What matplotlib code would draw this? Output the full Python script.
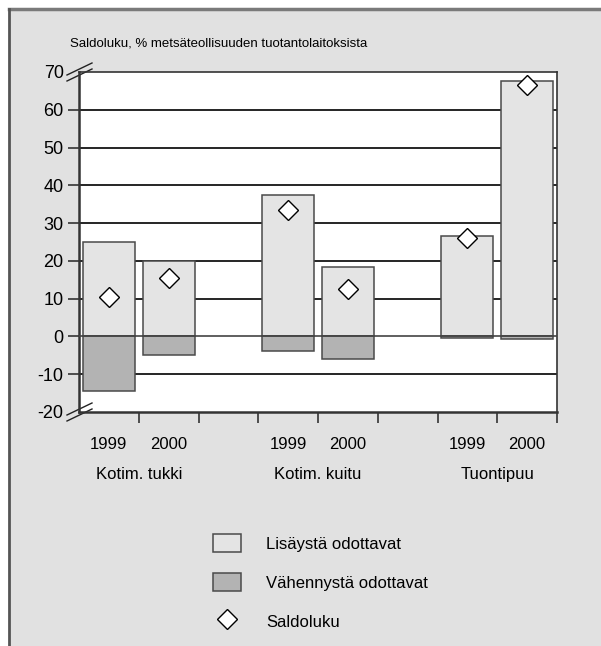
import matplotlib

matplotlib.use("Agg")
import matplotlib.pyplot as plt
from matplotlib.lines import Line2D
from matplotlib.patches import Patch, Rectangle

plt.rcParams["font.family"] = ["Liberation Sans Narrow", "Liberation Sans", "DejaVu Sans"]
plt.rcParams["axes.unicode_minus"] = False

# data
groups = ["Kotim. tukki", "Kotim. kuitu", "Tuontipuu"]
years = ["1999", "2000"]
increase = [25.0, 20.0, 37.5, 18.5, 26.5, 67.5]      # Lisäystä odottavat
decrease = [-14.5, -5.0, -3.8, -6.0, -0.3, -0.8]     # Vähennystä odottavat
balance = [10.5, 15.5, 33.5, 12.5, 26.0, 66.5]       # Saldoluku
yticks = [70, 60, 50, 40, 30, 20, 10, 0, -10, -20]

BG = "#e1e1e1"
INC_COLOR = "#e4e4e4"
DEC_COLOR = "#b3b3b3"
FS = 12

fig = plt.figure(figsize=(6.01, 6.46), dpi=100)
fig.patch.set_facecolor("white")
W, H = 601, 646
fig.add_artist(Rectangle((8.5 / W, 0), 1, 1 - 8.5 / H, transform=fig.transFigure,
                         facecolor=BG, edgecolor="none", zorder=-10))
fig.add_artist(Line2D([8.5 / W, 1], [1 - 8.5 / H] * 2, transform=fig.transFigure,
                      color="#7a7a7a", lw=2.5))
fig.add_artist(Line2D([8.5 / W] * 2, [0, 1 - 8.5 / H], transform=fig.transFigure,
                      color="#555555", lw=2.0))

ax = fig.add_axes([79 / W, 1 - 412 / H, (557 - 79) / W, (412 - 72) / H])
ax.set_facecolor("white")

# 3 groups of 2 bars, empty slot between groups
pos = []
for g in range(len(groups)):
    for y in range(len(years)):
        pos.append(g * 3 + y)

ax.bar(pos, increase, width=0.87, color=INC_COLOR, edgecolor="#4a4a4a", linewidth=1.1, zorder=2)
ax.bar(pos, decrease, width=0.87, color=DEC_COLOR, edgecolor="#4a4a4a", linewidth=1.1, zorder=2)
ax.plot(pos, balance, linestyle="none", marker="D", markersize=10,
        markerfacecolor="white", markeredgecolor="black", markeredgewidth=1.0, zorder=4)

for v in yticks[1:-1]:
    ax.axhline(v, color="black" if v != 0 else "#444444", lw=1.2, zorder=1 if v != 0 else 3)

ax.set_xlim(-0.5, 7.5)
ax.set_ylim(-20, 70)
ax.set_yticks(yticks)
ax.set_yticklabels([str(v) for v in yticks], fontsize=FS + 1)
ax.tick_params(axis="y", length=8, width=1.2, pad=3, color="#333333")
for t in (ax.yaxis.get_major_ticks()[0], ax.yaxis.get_major_ticks()[-1]):
    t.tick1line.set_visible(False)

ax.set_xticks([0.5, 1.5, 2.5, 3.5, 4.5, 5.5, 6.5, 7.5])
ax.set_xticklabels([])
ax.tick_params(axis="x", which="major", length=8, width=1.2, color="#333333")
ax.set_xticks(pos, minor=True)
ax.set_xticklabels(years * len(groups), minor=True, fontsize=FS)
ax.tick_params(axis="x", which="minor", length=0, pad=18)

for g, name in enumerate(groups):
    ax.text(g * 3 + 0.5, -0.183, name, transform=ax.get_xaxis_transform(),
            ha="center", va="center", fontsize=FS)

for side in ["left", "bottom"]:
    ax.spines[side].set_color("#333333")
    ax.spines[side].set_linewidth(1.8)
for side in ["top", "right"]:
    ax.spines[side].set_color("#333333")
    ax.spines[side].set_linewidth(1.2)

# axis break marks at both ends of the y axis
aw, ah = 557 - 79, 412 - 72
for ycorner in (0, 1):
    for off in (-3, 3):
        ax.add_line(Line2D([-12 / aw, 13 / aw],
                           [ycorner + (off - 6) / ah, ycorner + (off + 6) / ah],
                           transform=ax.transAxes, color="#222222", lw=1.0, clip_on=False))

fig.text(70 / W, 1 - 44 / H, "Saldoluku, % metsäteollisuuden tuotantolaitoksista",
         ha="left", va="center", fontsize=9.5)

handles = [
    Patch(facecolor=INC_COLOR, edgecolor="#4a4a4a", linewidth=1.1),
    Patch(facecolor=DEC_COLOR, edgecolor="#4a4a4a", linewidth=1.1),
    Line2D([], [], linestyle="none", marker="D", markersize=10,
           markerfacecolor="white", markeredgecolor="black", markeredgewidth=1.0),
]
labels = ["Lisäystä odottavat", "Vähennystä odottavat", "Saldoluku"]
fig.legend(handles, labels, loc="upper left", bbox_to_anchor=(213 / W, 1 - 534 / H),
           frameon=False, fontsize=FS, handlelength=1.7, handleheight=1.3,
           labelspacing=1.25, handletextpad=1.5, borderpad=0, borderaxespad=0)

fig.savefig("out.png", dpi=100)
